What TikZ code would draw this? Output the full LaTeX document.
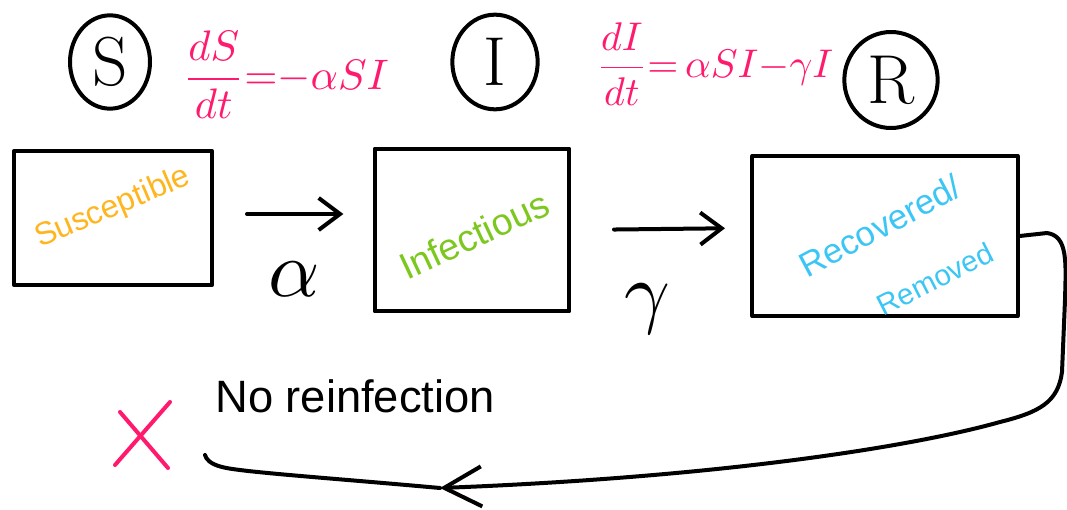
\documentclass[tikz,border=0pt]{standalone}
\usepackage{graphicx}
\usepackage{fontspec}
\usetikzlibrary{arrows.meta,shapes.geometric}
\newfontfamily\hand{Liberation Sans}
\definecolor{pinkc}{HTML}{FF1A6E}
\definecolor{orangec}{HTML}{FFB61E}
\definecolor{greenc}{HTML}{7DC81E}
\definecolor{bluec}{HTML}{3BC6F5}
\begin{document}
\begin{tikzpicture}[x=0.75pt,y=-0.75pt,line cap=round,line join=round]
\useasboundingbox[fill=white] (0,0) rectangle (1067,510);
\tikzset{
  stroke/.style={line width=3pt,black},
  box/.style={draw,line width=3pt,rectangle,inner sep=0pt},
  ring/.style={draw,line width=3pt,ellipse,inner sep=0pt,font=\fontsize{52}{52}\selectfont},
  eqn/.style={pinkc,inner sep=0pt},
  arr/.style={stroke,-{Straight Barb[length=16pt,width=24pt,line width=3pt]}},
  greek/.style={inner sep=0pt},
  boxtext/.style={inner sep=0pt,font=\hand},
}
% circles
\node[ring,minimum width=60pt,minimum height=70pt] (cS) at (110,62) {S};
\node[ring,minimum width=64pt,minimum height=71pt] (cI) at (495,62) {I};
\node[ring,minimum width=70pt,minimum height=72pt] (cR) at (891,80) {R};
% equations
\node[eqn,anchor=west] (eqS) at (183,75) {\scalebox{3.2}{$\displaystyle\frac{dS}{dt}{=}{-}\alpha SI$}};
\node[eqn,anchor=west] (eqI) at (596,64) {\scalebox{3.0}{$\displaystyle\frac{dI}{dt}{=}\,\alpha SI{-}\gamma I$}};
% boxes
\node[box,minimum width=148pt,minimum height=101pt] (bS) at (113,218) {};
\node[box,minimum width=146pt,minimum height=122pt] (bI) at (472,230) {};
\node[box,minimum width=199pt,minimum height=120pt] (bR) at (885,236) {};
% box texts
\node[boxtext,orangec,rotate=23,font=\hand\fontsize{24}{24}\selectfont] (tS) at (113,208) {Susceptible};
\node[boxtext,greenc,rotate=25,font=\hand\fontsize{28}{28}\selectfont] (tI) at (474,235) {Infectious};
\node[boxtext,bluec,rotate=28,font=\hand\fontsize{26}{26}\selectfont] (tR1) at (880,226) {Recovered/};
\node[boxtext,bluec,rotate=27,font=\hand\fontsize{22}{22}\selectfont] (tR2) at (935,279) {Removed};
% transition arrows
\draw[arr,shorten <=25pt,shorten >=22pt] ([yshift=3pt]bS.east) -- ([yshift=12pt]bI.west);
\draw[arr,shorten <=32pt,shorten >=19pt] (bI.east) -- ([yshift=6pt]bR.west);
\node[greek] (la) at (294,279) {\scalebox{6}{$\alpha$}};
\node[greek] (lg) at (647,309) {\scalebox{6}{$\gamma$}};
% loop back
\coordinate (loopmid) at (440,488);
\coordinate (loopend) at (205,455);
\draw[stroke,-{Straight Barb[length=28pt,width=30pt,line width=3pt]}]
  (bR.east) -- (1047,233) .. controls (1068,236) and (1066,262) .. (1065,300)
  -- (1062,372) .. controls (1058,402) and (1040,412) .. (1000,422)
  .. controls (900,450) and (700,478) .. (loopmid);
\draw[stroke] (loopmid) .. controls (330,478) and (240,472) .. (222,467)
  .. controls (210,464) and (206,459) .. (loopend);
% no reinfection
\node[anchor=base west,inner sep=0pt,font=\hand\fontsize{34}{34}\selectfont] (noreinf) at (215,412) {No reinfection};
\draw[pinkc,line width=3pt] (120,412) -- (168,468);
\draw[pinkc,line width=3pt] (170,402) -- (115,465);
\end{tikzpicture}
\end{document}
